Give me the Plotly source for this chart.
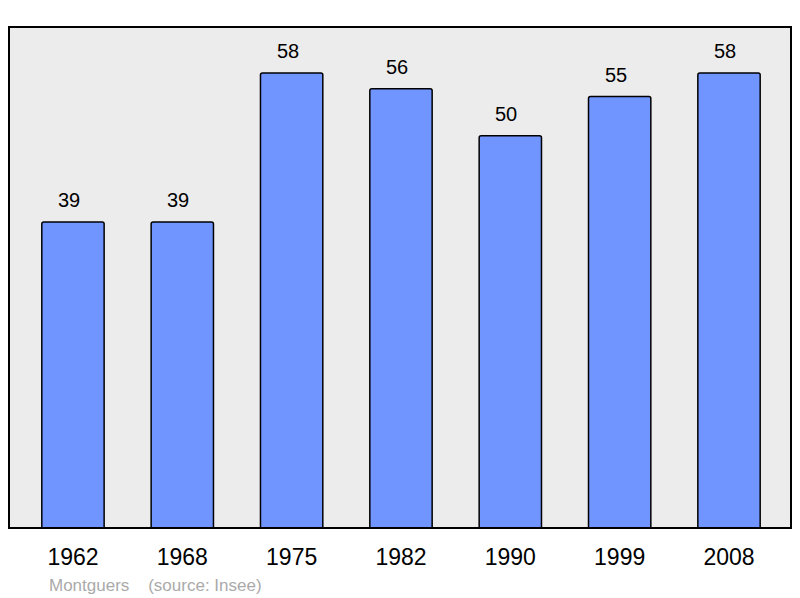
import plotly.graph_objects as go

years = ["1962", "1968", "1975", "1982", "1990", "1999", "2008"]
population = [39, 39, 58, 56, 50, 55, 58]
positions = list(range(len(years)))

FONT = "Liberation Sans, Arial, sans-serif"

fig = go.Figure()
fig.add_trace(go.Bar(
    x=positions, y=population, width=0.57,
    marker=dict(color="#7095ff", line=dict(color="#000000", width=1.5),
                cornerradius=2),
    hoverinfo="skip",
))

for xi, v in zip(positions, population):
    fig.add_annotation(x=xi, y=v, text=str(v), showarrow=False,
                       yshift=22, xshift=-4,
                       font=dict(size=20, color="#000000", family=FONT))

fig.add_shape(type="rect", xref="paper", yref="paper", x0=0, x1=1, y0=0, y1=1,
              line=dict(color="#000000", width=2), layer="above")

fig.add_annotation(xref="paper", yref="paper", x=0.0486, y=-0.1138, xanchor="left",
                   yanchor="middle", showarrow=False,
                   text="Montguers&nbsp;&nbsp;&nbsp;&nbsp;(source: Insee)",
                   font=dict(size=17, color="#aaaaaa", family=FONT))

fig.update_layout(
    width=800, height=598,
    margin=dict(l=9, r=9, t=27, b=70),
    paper_bgcolor="#ffffff", plot_bgcolor="#ececec",
    showlegend=False,
    font=dict(family=FONT, color="#000000"),
    xaxis=dict(range=[-0.585, 6.567], showgrid=False,
               tickmode="array", tickvals=positions, ticktext=years,
               ticks="outside", ticklen=8, tickcolor="rgba(0,0,0,0)",
               tickfont=dict(size=23), zeroline=False, showline=False),
    yaxis=dict(range=[0, 63.86], showgrid=False, showticklabels=False,
               zeroline=False, showline=False, ticks=""),
)

fig.write_html("out.html", config={"displayModeBar": False},
               post_script="document.body.style.margin='0';document.body.style.overflow='hidden';")
